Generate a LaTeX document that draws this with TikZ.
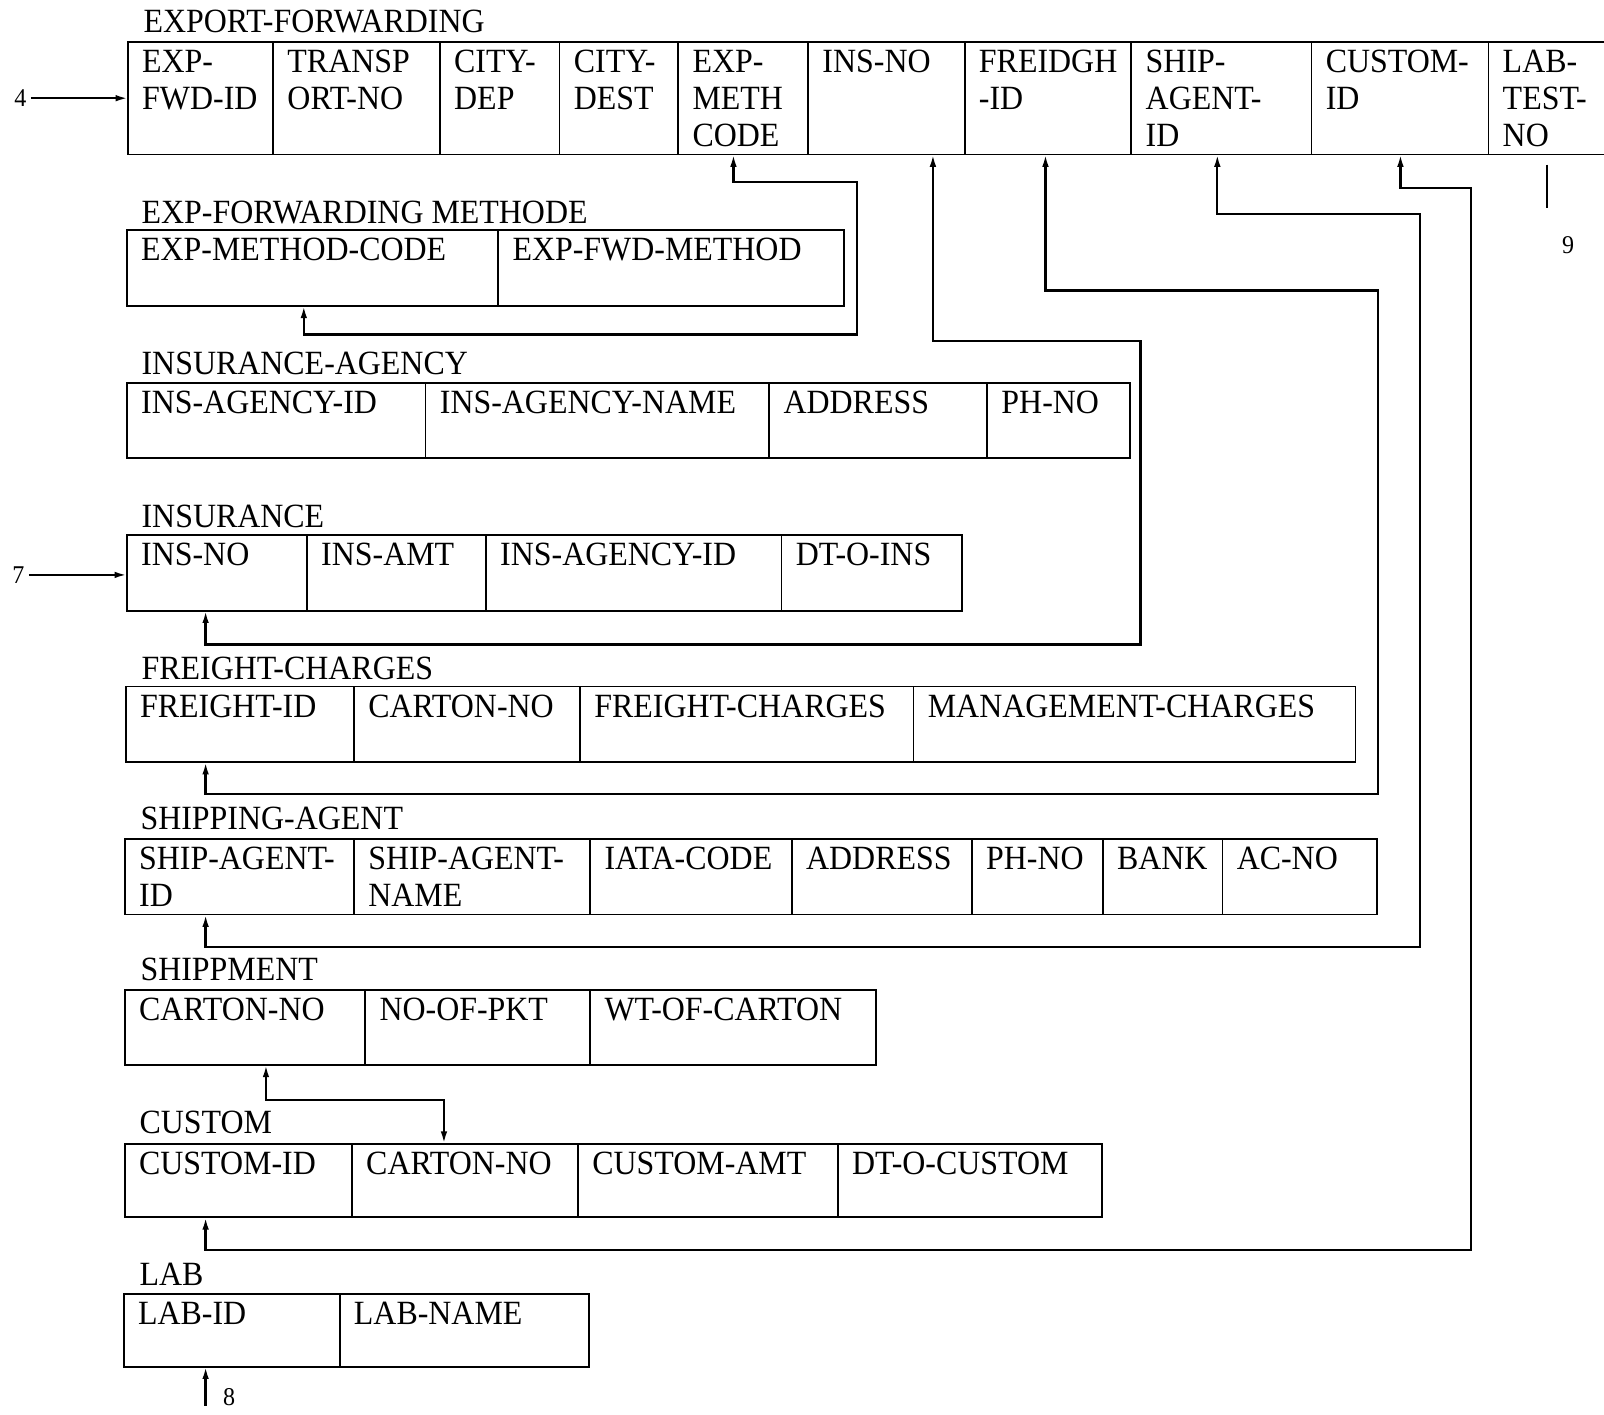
\documentclass[tikz,border=0pt]{standalone}
\usepackage{fontspec}
\setmainfont{Liberation Serif}[FakeStretch=0.94]
\usetikzlibrary{arrows.meta,calc}
\newcommand\nohyphs{\hyphenpenalty=10000\relax\exhyphenpenalty=10000\relax}
\begin{document}
\begin{tikzpicture}[x=0.5pt,y=-0.5pt,
  every node/.style={font=\fontsize{16.6pt}{18pt}\selectfont\nohyphs},
  title/.style={anchor=base west, inner sep=0pt},
  cell/.style={draw, line width=0.9pt, anchor=north west, inner xsep=7pt, inner ysep=0pt,
    outer sep=0pt, align=left, text height=15pt},
  cw/.style={text width={#1*0.5pt-14pt}},
  ch/.style={text depth={#1*0.5pt-15pt}},
  numlab/.style={inner sep=2pt, font=\fontsize{12.5pt}{14pt}\selectfont},
  conn/.style={line width=1.1pt, -{Latex[length=6pt,width=3.2pt]}},
  link/.style={line width=1.1pt, {Latex[length=6pt,width=3.2pt]}-{Latex[length=6pt,width=3.2pt]}},
  plain/.style={line width=1.1pt}
]
\fill[white] (0,0) rectangle (1568,1383);
\useasboundingbox (0,0) rectangle (1568,1383);
\clip (0,0) rectangle (1568,1383);

% EXPORT-FORWARDING
\node[title] (tef) at (140,32) {EXPORT-FORWARDING};
\node[cell, cw=142, ch=110] (ef1) at (125,41) {EXP-\\FWD-ID};
\node[cell, cw=163, ch=110] (ef2) at (267,41) {TRANSP\\ORT-NO};
\node[cell, cw=117, ch=110] (ef3) at (430,41) {CITY-\\DEP};
\node[cell, cw=116, ch=110] (ef4) at (547,41) {CITY-\\DEST};
\node[cell, cw=127, ch=110] (ef5) at (663,41) {EXP-\\METH\\CODE};
\node[cell, cw=153, ch=110] (ef6) at (790,41) {INS-NO};
\node[cell, cw=163, ch=110] (ef7) at (943,41) {FREIDGH\\-ID};
\node[cell, cw=176, ch=110] (ef8) at (1106,41) {SHIP-\\AGENT-\\ID};
\node[cell, cw=173, ch=110] (ef9) at (1282,41) {CUSTOM-\\ID};
\node[cell, cw=160, ch=110] (ef10) at (1455,41) {LAB-\\TEST-\\NO};

% EXP-FORWARDING METHODE
\node[title] (tfm) at (138,218) {EXP-FORWARDING METHODE};
\node[cell, cw=363, ch=74] (fm1) at (124,225) {EXP-METHOD-CODE};
\node[cell, cw=338, ch=74] (fm2) at (487,225) {EXP-FWD-METHOD};

% INSURANCE-AGENCY
\node[title] (tia) at (138,366) {INSURANCE-AGENCY};
\node[cell, cw=292, ch=74] (ia1) at (124,374) {INS-AGENCY-ID};
\node[cell, cw=336, ch=74] (ia2) at (416,374) {INS-AGENCY-NAME};
\node[cell, cw=213, ch=74] (ia3) at (752,374) {ADDRESS};
\node[cell, cw=140, ch=74] (ia4) at (965,374) {PH-NO};

% INSURANCE
\node[title] (tin) at (138,516) {INSURANCE};
\node[cell, cw=176, ch=74] (in1) at (124,523) {INS-NO};
\node[cell, cw=175, ch=74] (in2) at (300,523) {INS-AMT};
\node[cell, cw=289, ch=74] (in3) at (475,523) {INS-AGENCY-ID};
\node[cell, cw=176, ch=74] (in4) at (764,523) {DT-O-INS};

% FREIGHT-CHARGES
\node[title] (tfc) at (138,664) {FREIGHT-CHARGES};
\node[cell, cw=223, ch=74] (fc1) at (123,671) {FREIGHT-ID};
\node[cell, cw=221, ch=74] (fc2) at (346,671) {CARTON-NO};
\node[cell, cw=326, ch=74] (fc3) at (567,671) {FREIGHT-CHARGES};
\node[cell, cw=432, ch=74] (fc4) at (893,671) {MANAGEMENT-CHARGES};

% SHIPPING-AGENT
\node[title] (tsa) at (137,811) {SHIPPING-AGENT};
\node[cell, cw=224, ch=74] (sa1) at (122,820) {SHIP-AGENT-\\ID};
\node[cell, cw=231, ch=74] (sa2) at (346,820) {SHIP-AGENT-\\NAME};
\node[cell, cw=197, ch=74] (sa3) at (577,820) {IATA-CODE};
\node[cell, cw=176, ch=74] (sa4) at (774,820) {ADDRESS};
\node[cell, cw=128, ch=74] (sa5) at (950,820) {PH-NO};
\node[cell, cw=117, ch=74] (sa6) at (1078,820) {BANK};
\node[cell, cw=151, ch=74] (sa7) at (1195,820) {AC-NO};

% SHIPPMENT
\node[title] (tsh) at (137,958) {SHIPPMENT};
\node[cell, cw=235, ch=73] (sh1) at (122,968) {CARTON-NO};
\node[cell, cw=220, ch=73] (sh2) at (357,968) {NO-OF-PKT};
\node[cell, cw=279, ch=73] (sh3) at (577,968) {WT-OF-CARTON};

% CUSTOM
\node[title] (tcu) at (136,1108) {CUSTOM};
\node[cell, cw=222, ch=72] (cu1) at (122,1118) {CUSTOM-ID};
\node[cell, cw=221, ch=72] (cu2) at (344,1118) {CARTON-NO};
\node[cell, cw=254, ch=72] (cu3) at (565,1118) {CUSTOM-AMT};
\node[cell, cw=258, ch=72] (cu4) at (819,1118) {DT-O-CUSTOM};

% LAB
\node[title] (tlb) at (136,1257) {LAB};
\node[cell, cw=211, ch=71] (lb1) at (121,1265) {LAB-ID};
\node[cell, cw=244, ch=71] (lb2) at (332,1265) {LAB-NAME};

% connector end points
\coordinate (a1) at ($(ef5.south west)+(54,0)$);
\coordinate (b1) at ($(fm1.south west)+(173,0)$);
\coordinate (a2) at ($(ef6.south west)+(122,0)$);
\coordinate (b2) at ($(in1.south west)+(77,0)$);
\coordinate (a3) at ($(ef7.south west)+(79,0)$);
\coordinate (b3) at ($(fc1.south west)+(78,0)$);
\coordinate (a4) at ($(ef8.south west)+(84,0)$);
\coordinate (b4) at ($(sa1.south west)+(79,0)$);
\coordinate (a5) at ($(ef9.south west)+(87,0)$);
\coordinate (b5) at ($(cu1.south west)+(79,0)$);
\coordinate (a6) at ($(sh1.south west)+(138,0)$);
\coordinate (b6) at ($(cu2.north west)+(90,0)$);
\coordinate (b8) at ($(lb1.south west)+(80,0)$);

\draw[link] (a1) |- (838,178) |- (297,327) -- (b1);
\draw[link] (a2) |- (1115,333) |- (201,630) -- (b2);
\draw[link] (a3) |- (1347,284) |- (201,776) -- (b3);
\draw[link] (a4) |- (1388,209) |- (201,926) -- (b4);
\draw[link] (a5) |- (1438,184) |- (201,1222) -- (b5);
\draw[link] (a6) |- (434,1075) -- (b6);

% side labels
\node[numlab] (n4) at (20,96) {4};
\draw[conn] (n4) -- (n4 -| ef1.west);
\node[numlab] (n7) at (18,562) {7};
\draw[conn] (n7) -- (n7 -| in1.west);
\coordinate (c8) at (201,1374);
\draw[conn] (c8) -- (b8);
\node[numlab] (n8) at (224,1366) {8};
\coordinate (c9a) at (1512,161);
\coordinate (c9b) at (1512,203);
\draw[plain] (c9a) -- (c9b);
\node[numlab] (n9) at (1533,240) {9};
\end{tikzpicture}
\end{document}
